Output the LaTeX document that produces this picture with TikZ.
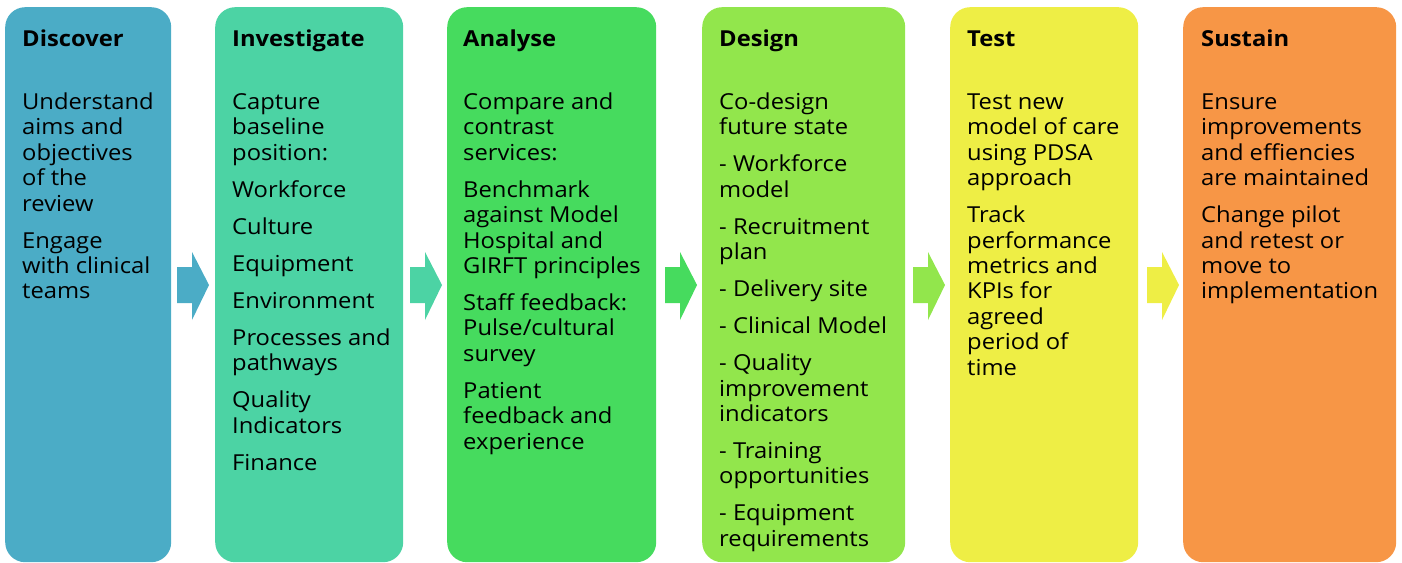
\documentclass[tikz,border=0pt]{standalone}
\usepackage{fontspec}
\setmainfont[FakeStretch=1.08]{Open Sans}
\definecolor{cA}{HTML}{4BACC6}
\definecolor{cB}{HTML}{4CD3A4}
\definecolor{cC}{HTML}{46DB5E}
\definecolor{cD}{HTML}{92E64C}
\definecolor{cE}{HTML}{EEEE45}
\definecolor{cF}{HTML}{F79646}
\newcommand{\bodytext}[1]{\parbox[t]{260bp}{\fontsize{22bp}{25.4bp}\selectfont\setlength\parskip{11.6bp}\setlength\parindent{0pt}#1}}
\begin{document}
\begin{tikzpicture}[x=1bp,y=-1bp,
  stage/.style={rounded corners=20bp, inner sep=0pt, anchor=north west, minimum height=555bp},
  title/.style={anchor=base west, inner sep=0pt, font=\fontsize{22bp}{25.4bp}\selectfont\bfseries},
  body/.style={anchor=base west, inner sep=0pt}]
\useasboundingbox (0,0) rectangle (1402,563);
\node[stage, fill=cA, minimum width=166bp] (b1) at (5,7) {};
\node[stage, fill=cB, minimum width=188bp] (b2) at (215,7) {};
\node[stage, fill=cC, minimum width=209bp] (b3) at (447,7) {};
\node[stage, fill=cD, minimum width=203bp] (b4) at (702,7) {};
\node[stage, fill=cE, minimum width=188bp] (b5) at (950,7) {};
\node[stage, fill=cF, minimum width=213bp] (b6) at (1183,7) {};
% chevrons
\newcommand{\chev}[2]{\fill[#2] (#1,267) -- ++(15,0) -- ++(0,-15) -- ++(17,33) -- ++(-17,35) -- ++(0,-17) -- ++(-15,0) -- cycle;}
\chev{177}{cA}
\chev{410}{cB}
\chev{665}{cC}
\chev{913}{cD}
\chev{1147}{cE}
% titles
\node[title] (t1) at (22,47) {Discover};
\node[title] (t2) at (232,47) {Investigate};
\node[title] (t3) at (463,47) {Analyse};
\node[title] (t4) at (719,47) {Design};
\node[title] (t5) at (967,47) {Test};
\node[title] (t6) at (1201,47) {Sustain};
% bodies
\node[body] (x1) at (22,109.5) {\bodytext{Understand\\aims and\\objectives\\of the\\review\par Engage\\with clinical\\teams}};
\node[body] (x2) at (232,109.5) {\bodytext{Capture\\baseline\\position:\par Workforce\par Culture\par Equipment\par Environment\par Processes and\\pathways\par Quality\\Indicators\par Finance}};
\node[body] (x3) at (463,109.5) {\bodytext{Compare and\\contrast\\services:\par Benchmark\\against Model\\Hospital and\\GIRFT principles\par Staff feedback:\\Pulse/cultural\\survey\par Patient\\feedback and\\experience}};
\node[body] (x4) at (719,109.5) {\bodytext{Co-design\\future state\par - Workforce\\model\par - Recruitment\\plan\par - Delivery site\par - Clinical Model\par - Quality\\improvement\\indicators\par - Training\\opportunities\par - Equipment\\requirements}};
\node[body] (x5) at (967,109.5) {\bodytext{Test new\\model of care\\using PDSA\\approach\par Track\\performance\\metrics and\\KPIs for\\agreed\\period of\\time}};
\node[body] (x6) at (1201,109.5) {\bodytext{Ensure\\improvements\\and effiencies\\are maintained\par Change pilot\\and retest or\\move to\\implementation}};
\end{tikzpicture}
\end{document}
